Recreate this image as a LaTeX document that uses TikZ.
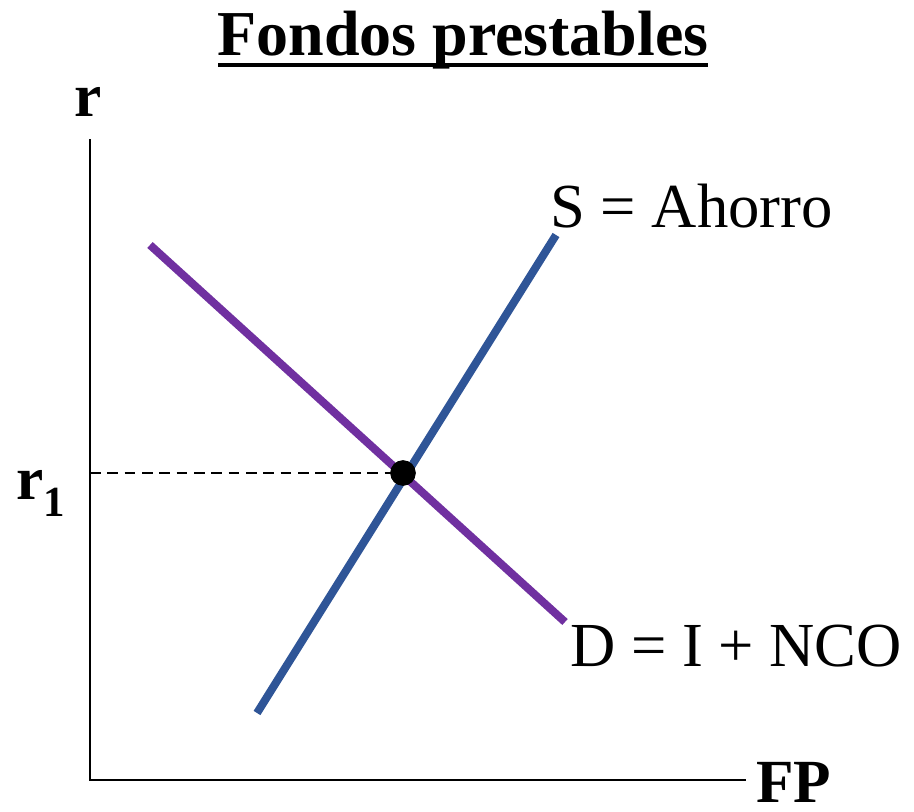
\documentclass[tikz,border=0pt]{standalone}
\usepackage{fontspec}
\setmainfont{Liberation Serif}
\definecolor{curvepurple}{HTML}{7030A0}
\definecolor{curveblue}{HTML}{2F5597}
\begin{document}
\begin{tikzpicture}[x=0.75pt,y=-0.75pt,
  axis/.style={line width=2.2pt,line cap=rect},
  curve/.style={line width=6pt},
  lbl/.style={font=\fontsize{47}{50}\selectfont,inner sep=0pt,anchor=base west},
  blbl/.style={font=\fontsize{46}{50}\selectfont\bfseries,inner sep=0pt}]
\useasboundingbox (0,0) rectangle (914,812);
% title
\node[font=\fontsize{48}{52}\selectfont\bfseries,inner sep=0pt,anchor=base] (title) at (463,56) {Fondos prestables};
\draw[line width=3pt] (218,65) -- (708,65);
% axes
\coordinate (ytop) at (90,140);
\coordinate (orig) at (90,780);
\coordinate (xend) at (745,780);
\draw[axis] (ytop) -- (orig) -- (xend);
\node[blbl,anchor=base] (rlab) at (88,117) {r};
\node[blbl,anchor=base west] (fplab) at (756,802) {FP};
\node[blbl,anchor=base] (r1lab) at (41,500) {r\textsubscript{1}};
% curves
\coordinate (d1) at (150,245);
\coordinate (d2) at (565,622);
\coordinate (s1) at (257,713);
\coordinate (s2) at (556,235);
\draw[curve,curvepurple] (d1) -- (d2);
\draw[curve,curveblue] (s1) -- (s2);
\node[circle,fill=black,minimum size=19pt,inner sep=0pt] (eq) at (403,473) {};
\coordinate (r1) at (90,473);
\draw[line width=1.4pt,dash pattern=on 8pt off 5pt] (r1) -- (eq.center);
\node[circle,fill=black,minimum size=19pt,inner sep=0pt] at (eq) {};
\node[lbl] (slab) at (550,228) {S = Ahorro};
\node[lbl] (dlab) at (570,666) {D = I + NCO};
\end{tikzpicture}
\end{document}
